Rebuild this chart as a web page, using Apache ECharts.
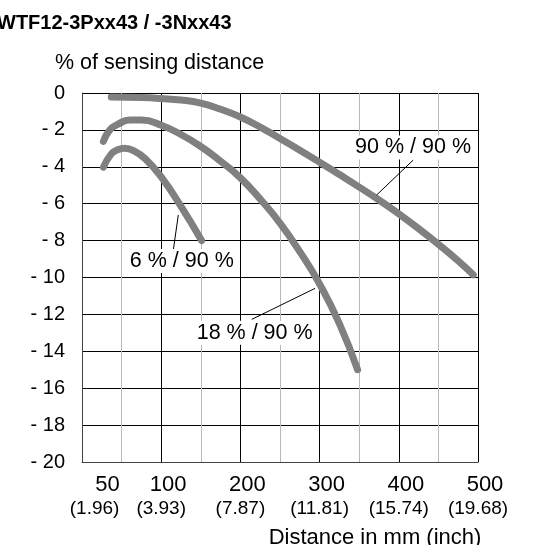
<!DOCTYPE html>
<html>
<head>
<meta charset="utf-8">
<script src="https://cdn.jsdelivr.net/npm/echarts@6/dist/echarts.min.js"></script>
<style>
html,body{margin:0;padding:0;background:#fff}
#main{width:543px;height:545px}
</style>
</head>
<body>
<div id="main"></div>
<script>
// x ticks (mm) and their inch values
const mmTicks = [50, 100, 200, 300, 400, 500]
const inchTicks = ['1.96', '3.93', '7.87', '11.81', '15.74', '19.68']

// curves: [distance mm, % of sensing distance]
const curve90 = [[37,-0.22],[75,-0.25],[100,-0.3],[125,-0.38],[150,-0.55],[175,-0.88],[200,-1.3],[225,-1.85],[250,-2.47],[275,-3.1],[300,-3.75],[325,-4.42],[350,-5.1],[375,-5.8],[400,-6.55],[425,-7.35],[450,-8.2],[475,-9.1],[494,-9.85]]
const curve18 = [[27,-2.62],[35,-2.0],[45,-1.7],[60,-1.47],[75,-1.47],[100,-1.75],[125,-2.25],[150,-2.9],[175,-3.7],[200,-4.6],[225,-5.75],[250,-7.05],[275,-8.6],[300,-10.35],[325,-12.5],[348,-15.0]]
const curve6 = [[27,-4.02],[37,-3.3],[45,-3.08],[54,-3.0],[65,-3.12],[80,-3.57],[100,-4.55],[125,-6.15],[151,-8.0]]

// callout texts, text position and leader line (data coords)
const noteText = ['90 % / 90 %', '18 % / 90 %', '6 % / 90 %']
const notePos = [[418,-2.95], [218,-13.0], [126,-9.1]]
const noteLine = [
  [[418.3,-3.63],[372,-5.53]],
  [[294.2,-10.59],[214.3,-12.27]],
  [[121.6,-6.61],[115.3,-8.51]]
]

const FONT = '"Liberation Sans", Arial, sans-serif'
const GRAY = '#808080'

let chart = echarts.init(document.getElementById('main'))

function curveSeries(data, i) {
  return {
    type: 'line',
    data: data,
    smooth: 0.5,
    symbol: 'none',
    lineStyle: { color: GRAY, width: 7, cap: 'round', join: 'round' },
    z: 3,
    markLine: {
      silent: true,
      symbol: 'none',
      label: { show: false },
      lineStyle: { color: '#000', width: 1, type: 'solid' },
      data: [[{ coord: noteLine[i][0] }, { coord: noteLine[i][1] }]]
    },
    markPoint: {
      silent: true,
      symbol: 'rect',
      symbolSize: 1,
      itemStyle: { color: 'rgba(0,0,0,0)' },
      label: {
        show: true,
        position: 'inside',
        formatter: noteText[i],
        fontFamily: FONT,
        fontSize: 21.5,
        color: '#000',
        backgroundColor: '#fff',
        padding: [1, 2]
      },
      data: [{ coord: notePos[i] }]
    }
  }
}

const rich = {
  n: { fontFamily: FONT, fontSize: 22, color: '#000', lineHeight: 24, padding: [0, 0, 0, 14] },
  i: { fontFamily: FONT, fontSize: 19, color: '#000', lineHeight: 24 },
  n0: { fontFamily: FONT, fontSize: 22, color: '#000', lineHeight: 24, padding: [0, 28, 0, 0] },
  i0: { fontFamily: FONT, fontSize: 19, color: '#000', lineHeight: 24, padding: [0, 54, 0, 0] }
}

let option = {
  backgroundColor: '#fff',
  animation: false,
  title: {
    text: 'WTF12-3Pxx43 / -3Nxx43',
    left: -3,
    top: 13,
    padding: 0,
    textStyle: { fontFamily: FONT, fontSize: 20, fontWeight: 'bold', color: '#000' }
  },
  grid: { left: 82, right: 65, top: 93, bottom: 83, outerBoundsMode: 'none', containLabel: false },
  xAxis: {
    type: 'value',
    min: 0,
    max: 500,
    interval: 50,
    name: 'Distance in mm (inch)',
    nameLocation: 'middle',
    nameGap: 65,
    nameTextStyle: { fontFamily: FONT, fontSize: 22, color: '#000', padding: [0, 0, 0, 190] },
    axisLine: { onZero: false, lineStyle: { color: '#444', width: 1 } },
    axisTick: { show: false },
    axisLabel: {
      margin: 11,
      hideOverlap: false,
      formatter: function (v) {
        let k = mmTicks.indexOf(v)
        if (k < 0) return ''
        if (k === 0) return '{n0|' + v + '}\n{i0|(' + inchTicks[k] + ')}'
        return '{n|' + v + '}\n{i|(' + inchTicks[k] + ')}'
      },
      rich: rich
    },
    splitLine: { show: true, lineStyle: { color: ['#000', '#b8b8b8'], width: 1 } }
  },
  yAxis: {
    type: 'value',
    min: -20,
    max: 0,
    interval: 2,
    name: '% of sensing distance',
    nameLocation: 'end',
    nameGap: 19,
    nameTextStyle: { fontFamily: FONT, fontSize: 21.5, color: '#000', align: 'left', padding: [0, 0, 0, -27] },
    axisLine: { show: true, onZero: false, lineStyle: { color: '#444', width: 1 } },
    axisTick: { show: false },
    axisLabel: {
      margin: 17,
      fontFamily: FONT,
      fontSize: 20,
      color: '#000',
      formatter: function (v) { return v === 0 ? '0' : '- ' + (-v) }
    },
    splitLine: { show: true, lineStyle: { color: '#000', width: 1 } }
  },
  series: [curveSeries(curve90, 0), curveSeries(curve18, 1), curveSeries(curve6, 2)]
}

chart.setOption(option)
</script>
</body>
</html>
